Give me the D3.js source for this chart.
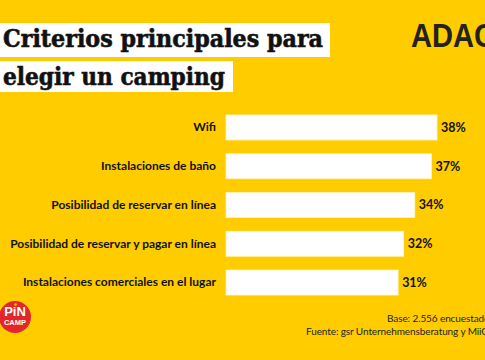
<!DOCTYPE html>
<html><head><meta charset="utf-8">
<script src="https://cdn.jsdelivr.net/npm/d3@7"></script>
<style>html,body{margin:0;padding:0;background:#FFCC00;overflow:hidden}</style>
</head><body>
<svg id="c" width="485" height="360"></svg>
<script>
const categories = ["Wifi","Instalaciones de baño","Posibilidad de reservar en línea","Posibilidad de reservar y pagar en línea","Instalaciones comerciales en el lugar"];
const values = [38,37,34,32,31];
const titleLines = ["Criterios principales para","elegir un camping"];
const footerLines = ["Base: 2.556 encuestados","Fuente: gsr Unternehmensberatung y MiiOS"];

const svg = d3.select("#c");
svg.append("rect").attr("width",485).attr("height",360).attr("fill","#FFCC00");

// Title boxes
const titleBoxes = [{x:0,y:23,w:330,h:34,tl:320},{x:0,y:61,w:233,h:31,tl:222}];
titleLines.forEach((t,i)=>{
  const b = titleBoxes[i];
  svg.append("rect").attr("x",b.x).attr("y",b.y).attr("width",b.w).attr("height",b.h).attr("fill","#fff");
  svg.append("text").attr("x",3).attr("y",b.y+24).text(t)
    .attr("font-family","DejaVu Serif").attr("font-weight","bold").attr("font-size",24)
    .attr("stroke","#111").attr("stroke-width",0.6)
    .attr("textLength",b.tl).attr("lengthAdjust","spacingAndGlyphs").attr("fill","#111");
});

// ADAC logo
svg.append("text").attr("x",411).attr("y",47).text("ADAC")
  .attr("font-family","Liberation Sans").attr("font-weight","bold").attr("font-size",33)
  .attr("textLength",84).attr("lengthAdjust","spacingAndGlyphs").attr("fill","#222");

// Scales
const x = d3.scaleLinear().domain([0,38]).range([226,437]);
const y = d3.scaleBand().domain(categories).range([108,302]).paddingInner(0.355).paddingOuter(0.18);

svg.append("g").selectAll("rect").data(categories).join("rect")
  .attr("x",x(0)).attr("y",d=>y(d)).attr("width",(d,i)=>x(values[i])-x(0)).attr("height",y.bandwidth())
  .attr("fill","#fff").attr("stroke","#fff3c0").attr("stroke-width",0.8);

const yAxis = d3.axisLeft(y).tickSize(0).tickPadding(10);
const ga = svg.append("g").attr("transform",`translate(${x(0)},0)`).call(yAxis);
ga.select(".domain").remove();
ga.selectAll("text").attr("font-family","Lato").attr("font-weight","bold").attr("font-size",12).attr("fill","#111");

svg.append("g").selectAll("text").data(categories).join("text")
  .attr("x",(d,i)=>x(values[i])+4).attr("y",d=>y(d)+y.bandwidth()/2).attr("dy","0.35em")
  .text((d,i)=>values[i]+"%")
  .attr("font-family","Lato").attr("font-weight","bold").attr("font-size",12.5).attr("fill","#111");

// Footer
svg.append("text").attr("x",387).attr("y",322).text(footerLines[0])
  .attr("font-family","Lato").attr("font-size",10).attr("letter-spacing",-0.1).attr("fill","#222");
svg.append("text").attr("x",306).attr("y",335).text(footerLines[1])
  .attr("font-family","Lato").attr("font-size",10).attr("letter-spacing",-0.1).attr("fill","#222");

// PiN CAMP logo
svg.append("circle").attr("cx",15).attr("cy",317).attr("r",16).attr("fill","#E3262B");
svg.append("text").attr("x",15).attr("y",316).attr("text-anchor","middle").text("PiN")
  .attr("font-family","Liberation Sans").attr("font-weight","bold").attr("font-size",13).attr("fill","#fff");
svg.append("text").attr("x",15).attr("y",325).attr("text-anchor","middle").text("CAMP")
  .attr("font-family","Liberation Sans").attr("font-weight","bold").attr("font-size",7.5).attr("fill","#fff");
svg.append("circle").attr("cx",15.5).attr("cy",304.5).attr("r",1.3).attr("fill","#FFCC00");
</script>
</body></html>
